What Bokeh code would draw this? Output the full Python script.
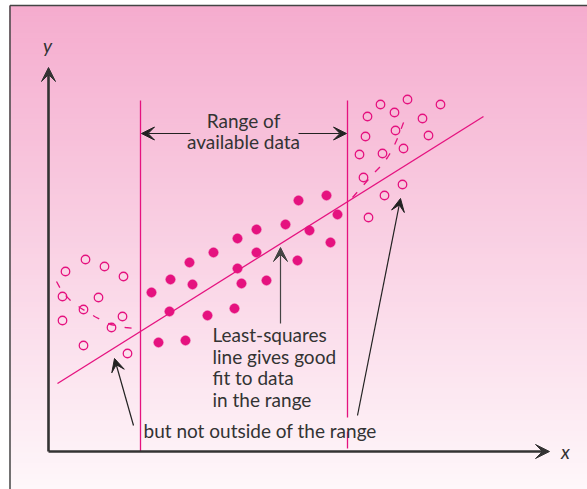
import numpy as np
from bokeh.plotting import figure
from bokeh.models import Arrow, VeeHead, Range1d
from bokeh.core.properties import value
from bokeh.embed import file_html
from bokeh.resources import INLINE

# ---- data (arbitrary x / y units) ----
in_x = [10.3, 12.2, 14.1, 14.4, 16.5, 12.1, 15.9, 18.6, 18.9, 18.9, 19.3, 20.8,
        20.8, 21.8, 23.7, 24.9, 25.0, 26.1, 27.8, 28.2, 28.9, 11.0, 13.7]
in_y = [15.9, 17.2, 18.9, 16.7, 19.9, 14.0, 13.6, 14.3, 21.3, 18.3, 16.8, 22.2,
        19.9, 17.1, 22.7, 19.1, 25.1, 22.1, 25.6, 20.9, 23.7, 10.9, 11.1]

left_x = [3.7, 1.7, 5.6, 7.5, 1.4, 5.0, 3.5, 1.4, 7.4, 6.3, 3.5, 7.9]
left_y = [19.2, 18.0, 18.5, 17.5, 15.5, 15.4, 14.2, 13.1, 13.5, 12.4, 10.6, 9.8]

right_x = [33.2, 35.9, 39.2, 31.9, 34.6, 37.4, 31.7, 34.7, 38.0, 31.1, 33.4, 35.5,
           31.5, 35.4, 33.6, 32.0]
right_y = [34.7, 35.2, 34.7, 33.5, 33.9, 33.3, 31.5, 32.1, 31.6, 29.7, 29.8, 30.3,
           27.4, 26.7, 25.6, 23.4]

fit_x = [0.9, 43.5]
fit_y = [6.8, 33.5]

true_left_x = [0.8, 1.4, 2.2, 3.2, 4.7, 6.2, 7.7, 9.1]
true_left_y = [17.0, 15.9, 15.1, 14.35, 13.45, 12.7, 12.4, 12.25]
true_right_x = [30.4, 31.2, 31.9, 32.6, 33.2, 33.9, 34.4, 34.8, 35.1, 35.5, 35.7]
true_right_y = [25.4, 26.3, 27.1, 27.9, 28.5, 29.4, 30.2, 31.1, 31.8, 32.9, 33.8]

range_lo = 9.2
range_hi = 29.9

PINK = "#E5127F"
DARK = "#333333"
FONT = "Lato"

X0, X1 = -4.8, 53.9
Y0, Y1 = -3.8, 45.1

p = figure(width=587, height=489, x_range=Range1d(X0, X1), y_range=Range1d(Y0, Y1),
           output_backend="svg", toolbar_location=None,
           x_axis_type=None, y_axis_type=None,
           min_border=0, min_border_left=0, min_border_right=0,
           min_border_top=0, min_border_bottom=0)
p.outline_line_color = None
p.background_fill_color = "white"
p.border_fill_color = "white"
p.grid.visible = False

# background gradient (styling bands)
n = 90
BL, BT = -3.85, 44.6
edges = np.linspace(Y0, BT, n + 1)
top_c = np.array([245, 172, 206])
bot_c = np.array([254, 247, 250])
cols = []
for i in range(n):
    t = (i + 0.5) / n
    c = bot_c + (top_c - bot_c) * t
    cols.append("#%02x%02x%02x" % tuple(int(round(v)) for v in c))
p.quad(left=BL, right=X1, bottom=edges[:-1], top=edges[1:], fill_color=cols,
       line_color=cols, line_width=1.2)

# border (left + top)
p.line([BL, BL], [Y0, BT], line_color="#444444", line_width=1.5)
p.line([BL, X1], [BT, BT], line_color="#444444", line_width=1.5)

# range lines
p.line([range_lo, range_lo], [0, 35.1], line_color=PINK, line_width=1.3)
p.line([range_hi, range_hi], [3.4, 35.1], line_color=PINK, line_width=1.3)
p.line([range_hi, range_hi], [0.3, 2.0], line_color=PINK, line_width=1.3)

# least-squares line
p.line(fit_x, fit_y, line_color=PINK, line_width=1.3)

# true curve (dashed)
p.line(true_left_x, true_left_y, line_color=PINK, line_width=1.3, line_dash="7 10")
p.line(true_right_x, true_right_y, line_color=PINK, line_width=1.3, line_dash="7 10")

# data points
p.scatter(in_x, in_y, size=9.5, fill_color=PINK, line_color=PINK, line_width=0.5)
p.scatter(left_x, left_y, size=8.5, fill_color=None, line_color=PINK, line_width=1.3)
p.scatter(right_x, right_y, size=8.5, fill_color=None, line_color=PINK, line_width=1.3)

# axes with arrowheads
p.add_layout(Arrow(end=VeeHead(size=14, fill_color=DARK, line_color=DARK),
                   x_start=0, y_start=0, x_end=50.1, y_end=0,
                   line_color=DARK, line_width=2.6))
p.add_layout(Arrow(end=VeeHead(size=14, fill_color=DARK, line_color=DARK),
                   x_start=0, y_start=0, x_end=0, y_end=38.4,
                   line_color=DARK, line_width=2.6))

# annotation arrows
def arrow(xs, ys, xe, ye, size=13, color="#222222"):
    p.add_layout(Arrow(end=VeeHead(size=size, fill_color=color, line_color=color),
                       x_start=xs, y_start=ys, x_end=xe, y_end=ye,
                       line_color=color, line_width=1.2))

arrow(14.2, 31.8, 9.3, 31.8)
arrow(25.0, 31.8, 29.8, 31.8)
arrow(23.2, 12.8, 23.2, 20.4, size=14, color="#444444")
arrow(8.5, 2.6, 6.6, 9.3)
arrow(30.9, 3.6, 35.2, 25.3)

# texts
FS = "19px"
lab_x = [19.5, 19.5]
lab_y = [33.1, 31.0]
lab_t = ["Range of", "available data"]
p.text(lab_x, lab_y, text=lab_t, text_font=value(FONT), text_font_size=FS,
       text_color=DARK, text_align="center", text_baseline="middle")

ls_t = ["Least-squares", "line gives good", "fit to data", "in the range"]
ls_y = [11.7, 9.55, 7.45, 5.25]
p.text([16.4] * 4, ls_y, text=ls_t, text_font=value(FONT), text_font_size=FS,
       text_color=DARK, text_align="left", text_baseline="middle")

p.text([9.5], [2.1], text=["but not outside of the range"], text_font=value(FONT),
       text_font_size=FS, text_color=DARK, text_align="left", text_baseline="middle")

p.text([-0.1], [40.6], text=["y"], text_font=value(FONT), text_font_size="19px",
       text_font_style="italic", text_color=DARK, text_align="center", text_baseline="middle")
p.text([51.7], [0], text=["x"], text_font=value(FONT), text_font_size="19px",
       text_font_style="italic", text_color=DARK, text_align="center", text_baseline="middle")

open("out.html", "w").write(file_html(p, INLINE))
